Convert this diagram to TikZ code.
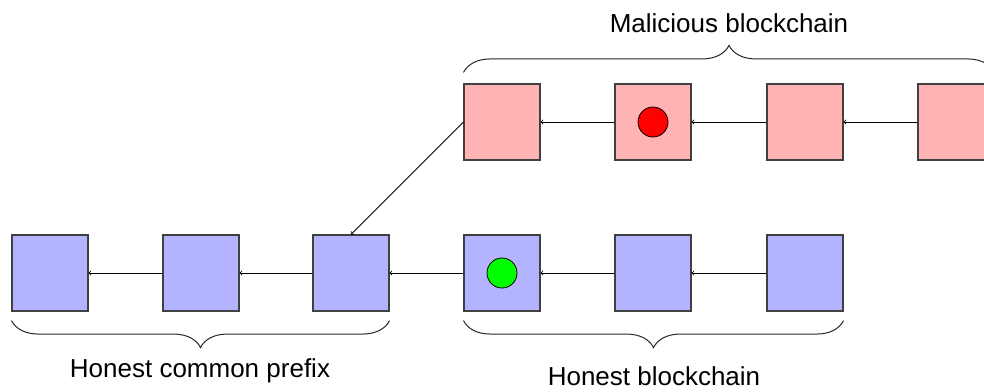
\documentclass[tikz,border=0pt]{standalone}
\usepackage{fontspec}
\setmainfont{Liberation Sans}
\usetikzlibrary{decorations.pathreplacing,arrows}
\definecolor{honestfill}{RGB}{179,179,255}
\definecolor{malfill}{RGB}{255,179,179}
\tikzset{
  block/.style={draw=black!75, line width=1.1pt, minimum size=76pt, inner sep=0pt},
  honest/.style={block, fill=honestfill},
  malicious/.style={block, fill=malfill},
  link/.style={->, >=to, line width=0.8pt, black},
  bracedeco/.style={decorate, decoration={brace, amplitude=27pt}, line width=1pt, black!85},
  label/.style={font=\fontsize{26}{30}\selectfont, inner sep=0pt},
  coin/.style={circle, draw=black, line width=0.8pt, minimum size=30pt, inner sep=0pt}
}
\begin{document}
\begin{tikzpicture}[x=1pt,y=-1pt]
  \useasboundingbox (0,0) rectangle (984,391);
  \clip (0,0) rectangle (984,391);

  % honest chain
  \node[honest] (h1) at (50,273) {};
  \node[honest] (h2) at (201,273) {};
  \node[honest] (h3) at (351,273) {};
  \node[honest] (h4) at (502,273) {};
  \node[honest] (h5) at (653,273) {};
  \node[honest] (h6) at (805,273) {};

  % malicious chain
  \node[malicious] (m1) at (502,122) {};
  \node[malicious] (m2) at (653,122) {};
  \node[malicious] (m3) at (805,122) {};
  \node[malicious] (m4) at (956,122) {};

  % conflicting transactions
  \node[coin, fill=green] (g) at (h4.center) {};
  \node[coin, fill=red] (r) at (m2.center) {};

  % back-pointers
  \draw[link] (h2.west) -- (h1.east);
  \draw[link] (h3.west) -- (h2.east);
  \draw[link] (h4.west) -- (h3.east);
  \draw[link] (h5.west) -- (h4.east);
  \draw[link] (h6.west) -- (h5.east);
  \draw[link] (m2.west) -- (m1.east);
  \draw[link] (m3.west) -- (m2.east);
  \draw[link] (m4.west) -- (m3.east);
  \draw[link] (m1.west) -- (h3.north);

  % braces
  \coordinate (pa) at ([yshift=-9pt]h1.south west);
  \coordinate (pb) at ([yshift=-9pt]h3.south east);
  \coordinate (ha) at ([yshift=-9pt]h4.south west);
  \coordinate (hb) at ([yshift=-9pt]h6.south east);
  \coordinate (ma) at ([yshift=11pt]m1.north west);
  \coordinate (mb) at ([yshift=11pt]m4.north east);
  \draw[bracedeco] (pb) -- (pa);
  \draw[bracedeco] (hb) -- (ha);
  \draw[bracedeco] (ma) -- (mb);

  % captions
  \node[label] (lp) at (200,371) {Honest common prefix};
  \node[label] (lh) at (654,376) {Honest blockchain};
  \node[label] (lm) at (729,23) {Malicious blockchain};
\end{tikzpicture}
\end{document}
